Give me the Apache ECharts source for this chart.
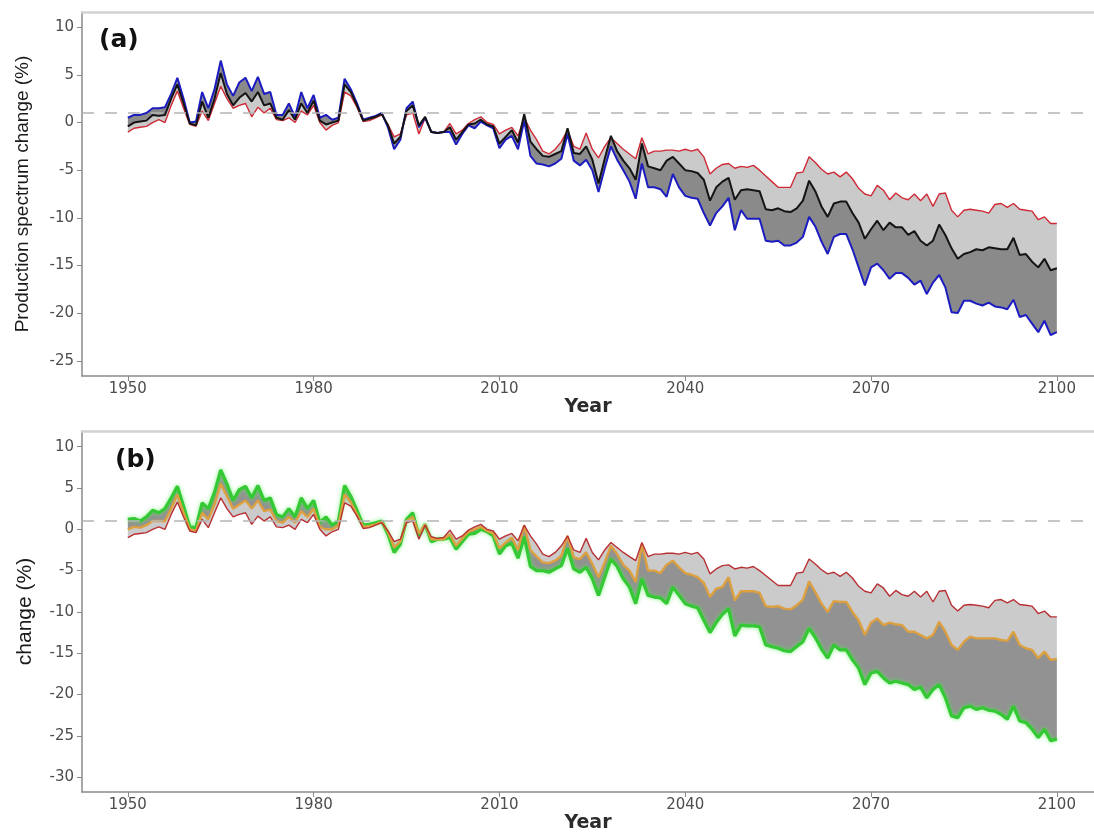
<!DOCTYPE html>
<html>
<head>
<meta charset="utf-8">
<title>Production spectrum change</title>
<script src="https://cdn.jsdelivr.net/npm/echarts@6/dist/echarts.min.js"></script>
<style>
  html, body { margin: 0; padding: 0; background: #fff; }
  #chart { width: 1094px; height: 834px; }
</style>
</head>
<body>
<div id="chart"></div>
<script>
// years on the x axis
const startYear = 1950;
const endYear = 2100;
const years = [];
for (let y = startYear; y <= endYear; y++) years.push(y);

const xTicks = [1950, 1980, 2010, 2040, 2070, 2100];
const yTicksA = [-25, -20, -15, -10, -5, 0, 5, 10];
const yTicksB = [-30, -25, -20, -15, -10, -5, 0, 5, 10];
const refLevel = 1; // dashed reference line

// red line (same in both panels)
const redValues = [
  -1.0, -0.6, -0.5, -0.4, 0.0, 0.3, 0.0, 1.8, 3.3, 1.5,
  -0.2, -0.4, 1.2, 0.2, 2.0, 3.8, 2.5, 1.5, 1.8, 2.0,
  0.6, 1.6, 1.0, 1.5, 0.3, 0.2, 0.5, 0.0, 1.2, 0.8,
  1.8, 0.0, -0.8, -0.3, 0.0, 3.2, 2.8, 1.6, 0.1, 0.2,
  0.5, 0.8, -0.2, -1.5, -1.2, 0.8, 1.0, -1.2, 0.5, -0.9,
  -1.1, -1.0, -0.1, -1.2, -0.8, -0.1, 0.3, 0.6, 0.0, -0.2,
  -1.2, -0.8, -0.5, -1.4, 0.5, -0.8, -1.8, -3.0, -3.3, -2.8,
  -2.0, -0.8, -2.5, -2.8, -1.1, -2.8, -3.7, -2.5, -1.6, -2.2,
  -2.8, -3.3, -3.8, -1.6, -3.3, -3.0, -3.0, -2.9, -2.9, -3.0,
  -2.8, -3.0, -2.8, -3.6, -5.4, -4.8, -4.4, -4.3, -4.8, -4.6,
  -4.7, -4.5, -5.0, -5.6, -6.2, -6.8, -6.8, -6.8, -5.3, -5.2,
  -3.6, -4.2, -4.9, -5.4, -5.2, -5.7, -5.2, -5.9, -6.9, -7.5,
  -7.7, -6.6, -7.1, -8.1, -7.4, -7.9, -8.1, -7.5, -8.2, -7.5,
  -8.8, -7.5, -7.4, -9.2, -9.9, -9.2, -9.1, -9.2, -9.3, -9.5,
  -8.6, -8.5, -8.9, -8.5, -9.1, -9.2, -9.3, -10.2, -9.9, -10.6,
  -10.6
];

// panel (a) black line
const blackValues = [
  -0.4, 0.0, 0.1, 0.2, 0.8, 0.7, 0.8, 2.5, 4.0, 2.0,
  -0.1, -0.3, 2.2, 0.5, 2.5, 5.2, 3.0, 1.8, 2.6, 3.1,
  2.2, 3.2, 1.8, 2.0, 0.5, 0.3, 1.3, 0.3, 2.0, 1.0,
  2.3, 0.2, -0.2, 0.0, 0.2, 4.0, 3.2, 1.8, 0.2, 0.4,
  0.6, 0.9, -0.3, -2.2, -1.5, 1.2, 1.8, -0.3, 0.6, -1.0,
  -1.1, -1.0, -0.5, -1.8, -1.0, -0.2, -0.1, 0.3, -0.2, -0.4,
  -2.2, -1.5, -0.8, -2.1, 0.9, -2.0, -2.8, -3.5, -3.6, -3.3,
  -3.0, -0.6, -3.2, -3.3, -2.5, -3.9, -6.4, -3.8, -1.4, -3.0,
  -4.0, -4.8, -6.0, -2.2, -4.6, -4.8, -5.0, -4.0, -3.6, -4.3,
  -5.0, -5.1, -5.3, -6.0, -8.2, -6.8, -6.2, -5.8, -8.1, -7.1,
  -7.0, -7.1, -7.2, -9.1, -9.2, -9.0, -9.3, -9.4, -9.0, -8.2,
  -6.1, -7.2, -8.8, -9.9, -8.5, -8.3, -8.3, -9.5, -10.5, -12.2,
  -11.2, -10.3, -11.3, -10.5, -11.0, -11.0, -11.8, -11.4, -12.4, -12.9,
  -12.4, -10.7, -11.8, -13.2, -14.3, -13.8, -13.6, -13.3, -13.4, -13.1,
  -13.2, -13.3, -13.3, -12.1, -13.9, -13.8, -14.6, -15.2, -14.3, -15.5,
  -15.3
];

// panel (a) blue line
const blueValues = [
  0.5, 0.8, 0.8, 1.0, 1.5, 1.5, 1.6, 3.0, 4.7, 2.5,
  0.0, 0.1, 3.2, 1.5, 3.5, 6.5, 4.0, 2.8, 4.2, 4.7,
  3.3, 4.8, 3.0, 3.2, 0.8, 0.8, 2.0, 0.6, 3.2, 1.5,
  2.9, 0.5, 0.8, 0.3, 0.5, 4.6, 3.5, 2.0, 0.3, 0.5,
  0.7, 1.0, -0.5, -2.8, -1.8, 1.5, 2.2, -0.5, 0.5, -1.0,
  -1.1, -1.0, -1.0, -2.3, -1.2, -0.3, -0.6, 0.1, -0.3, -0.6,
  -2.7, -1.8, -1.4, -2.8, 0.2, -3.5, -4.3, -4.4, -4.6, -4.3,
  -3.8, -1.2, -4.0, -4.5, -3.9, -5.0, -7.3, -4.8, -2.5, -3.9,
  -5.0, -6.2, -8.0, -4.3, -6.8, -6.8, -7.0, -7.8, -5.4, -6.8,
  -7.7, -7.9, -8.0, -9.5, -10.8, -9.5, -8.8, -7.9, -11.3, -9.2,
  -10.1, -10.1, -10.1, -12.4, -12.5, -12.4, -12.9, -12.9, -12.6, -12.0,
  -9.9, -10.9, -12.5, -13.8, -12.0, -11.7, -11.7, -13.3, -15.2, -17.1,
  -15.2, -14.8, -15.5, -16.4, -15.8, -15.8, -16.3, -17.0, -16.6, -18.0,
  -16.8, -16.0, -17.3, -19.9, -20.0, -18.7, -18.7, -19.0, -19.2, -18.9,
  -19.3, -19.4, -19.6, -18.6, -20.4, -20.2, -21.1, -22.0, -20.8, -22.3,
  -22.0
];

// panel (b) orange line
const orangeValues = [
  0.0, 0.3, 0.2, 0.5, 1.0, 1.0, 1.0, 2.5, 4.2, 2.0,
  0.0, -0.2, 2.0, 1.2, 3.0, 5.5, 4.0, 2.5, 3.0, 3.5,
  2.5, 3.5, 2.2, 2.4, 1.0, 0.8, 1.5, 0.8, 2.2, 1.5,
  2.5, 0.3, 0.0, 0.0, 0.5, 4.2, 3.3, 1.8, 0.3, 0.4,
  0.6, 0.9, -0.3, -2.2, -1.5, 1.0, 1.5, -0.5, 0.6, -1.2,
  -1.2, -1.2, -0.6, -2.0, -1.1, -0.3, 0.0, 0.3, -0.2, -0.5,
  -2.3, -1.6, -1.0, -2.5, 0.5, -2.5, -3.3, -4.0, -4.1, -3.8,
  -3.2, -0.8, -3.4, -3.6, -2.8, -4.2, -5.8, -4.0, -2.0, -3.0,
  -4.3, -5.0, -6.4, -1.8, -5.0, -5.0, -5.3, -4.3, -3.8, -4.6,
  -5.3, -5.5, -5.8, -6.5, -8.2, -7.2, -7.0, -5.8, -8.6, -7.5,
  -7.5, -7.5, -7.7, -9.3, -9.4, -9.3, -9.6, -9.7, -9.2, -8.5,
  -6.3, -7.6, -9.0, -10.0, -8.7, -8.8, -8.8, -10.0, -11.0, -12.8,
  -11.3, -10.8, -11.6, -11.3, -11.5, -11.6, -12.4, -12.4, -12.8, -13.2,
  -12.8, -11.2, -12.4, -14.0, -14.6, -13.6, -13.0, -13.2, -13.2, -13.2,
  -13.2, -13.4, -13.5, -12.4, -14.0, -14.4, -14.6, -15.6, -14.8, -15.8,
  -15.7
];

// panel (b) green line
const greenValues = [
  1.2, 1.3, 1.0, 1.5, 2.3, 2.0, 2.5, 3.8, 5.2, 2.8,
  0.3, 0.2, 3.2, 2.5, 4.5, 7.2, 5.5, 3.5, 4.8, 5.2,
  3.8, 5.3, 3.5, 3.8, 1.8, 1.5, 2.5, 1.5, 3.8, 2.5,
  3.5, 0.8, 1.5, 0.5, 1.0, 5.3, 4.0, 2.3, 0.5, 0.6,
  0.8, 1.0, -0.6, -2.8, -1.8, 1.2, 2.0, -0.8, 0.6, -1.5,
  -1.2, -1.2, -1.0, -2.4, -1.5, -0.6, -0.5, 0.0, -0.3, -0.8,
  -3.0, -2.0, -1.7, -3.5, -0.9, -4.5, -5.0, -5.0, -5.2, -4.8,
  -4.4, -2.3, -4.8, -5.2, -4.6, -6.0, -8.0, -5.8, -3.6, -4.5,
  -6.0, -7.0, -9.0, -6.0, -8.0, -8.2, -8.3, -9.0, -7.0, -8.0,
  -9.0, -9.3, -9.5, -11.0, -12.5, -11.3, -10.3, -9.6, -12.9, -11.6,
  -11.7, -11.7, -11.8, -14.0, -14.2, -14.4, -14.7, -14.8, -14.2, -13.6,
  -12.0, -13.1, -14.5, -15.6, -14.0, -14.6, -14.6, -15.8, -16.8, -18.8,
  -17.4, -17.2, -18.0, -18.6, -18.4, -18.6, -18.8, -19.4, -19.1, -20.4,
  -19.4, -18.8, -20.4, -22.6, -22.8, -21.6, -21.4, -21.8, -21.6, -21.9,
  -22.0, -22.4, -23.0, -21.4, -23.2, -23.4, -24.2, -25.2, -24.2, -25.6,
  -25.4
];

const chart = echarts.init(document.getElementById('chart'));

const pairs = vals => years.map((y, i) => [y, vals[i]]);

const axisGray = '#8a8a8a';
const labelGray = '#4d4d4d';

// shaded band between two lines, drawn as one polygon through the axis scales
function band(gi, edgeA, edgeB, color) {
  return {
    type: 'custom', xAxisIndex: gi * 2, yAxisIndex: gi, silent: true,
    data: years.map((y, i) => [y, edgeA[i], edgeB[i]]),
    encode: { x: 0, y: [1, 2] },
    renderItem: function (params, api) {
      if (params.dataIndex !== 0) return null;
      const pts = [];
      years.forEach((y, i) => pts.push(api.coord([y, edgeA[i]])));
      for (let i = years.length - 1; i >= 0; i--) pts.push(api.coord([years[i], edgeB[i]]));
      return { type: 'polygon', shape: { points: pts }, style: { fill: color } };
    }
  };
}

function line(gi, name, vals, color, width, extra) {
  return Object.assign({
    name: name, type: 'line', xAxisIndex: gi * 2, yAxisIndex: gi,
    data: pairs(vals), symbol: 'none', silent: true,
    lineStyle: { color: color, width: width }
  }, extra || {});
}

const refLine = {
  silent: true, symbol: 'none', label: { show: false },
  lineStyle: { color: '#b4b4b4', type: [12, 11], width: 1.5 },
  data: [{ yAxis: refLevel }]
};

function xAxes(gi) {
  return [{
    gridIndex: gi, type: 'value', min: 1942.6, max: 2106,
    name: 'Year', nameLocation: 'middle', nameGap: 22,
    nameTextStyle: { fontFamily: 'DejaVu Sans', fontWeight: 'bold', fontSize: 19, color: '#2b2b2b' },
    axisLine: { onZero: false, lineStyle: { color: axisGray, width: 1.5 } },
    axisTick: { customValues: xTicks, length: 5, lineStyle: { color: axisGray } },
    axisLabel: { customValues: xTicks, margin: 6, color: labelGray, fontFamily: 'DejaVu Sans', fontSize: 15,
      formatter: v => String(v) },
    splitLine: { show: false }
  }, {
    gridIndex: gi, type: 'value', position: 'top', min: 1942.6, max: 2106,
    axisLine: { onZero: false, lineStyle: { color: '#d2d2d2', width: 2.5 } },
    axisTick: { show: false }, axisLabel: { show: false }, splitLine: { show: false }
  }];
}

function yAxis(gi, min, max, ticks, name, fontSize, gap) {
  return {
    gridIndex: gi, type: 'value', min: min, max: max,
    name: name, nameLocation: 'middle', nameGap: gap, nameRotate: 90,
    nameTextStyle: { fontFamily: 'Liberation Sans', fontSize: fontSize, color: '#1a1a1a' },
    axisLine: { show: true, onZero: false, lineStyle: { color: axisGray, width: 1.5 } },
    axisTick: { show: true, customValues: ticks, length: 5, lineStyle: { color: axisGray } },
    axisLabel: { customValues: ticks, margin: 8, color: labelGray, fontFamily: 'DejaVu Sans', fontSize: 15 },
    splitLine: { show: false }
  };
}

const option = {
  animation: false,
  backgroundColor: '#ffffff',
  grid: [
    { left: 82, right: 0, top: 12, height: 364 },
    { left: 82, right: 0, top: 431, height: 364 }
  ],
  xAxis: xAxes(0).concat(xAxes(1)),
  yAxis: [
    yAxis(0, -26.6, 11.6, yTicksA, 'Production spectrum change (%)', 19, 50),
    yAxis(1, -31.8, 11.9, yTicksB, 'change (%)', 21, 46)
  ],
  graphic: [
    { type: 'text', left: 99, top: 28, style: { text: '(a)', font: 'bold 25px "DejaVu Sans"', fill: '#111' } },
    { type: 'text', left: 115, top: 448, style: { text: '(b)', font: 'bold 25px "DejaVu Sans"', fill: '#111' } }
  ],
  series: [
    band(0, blackValues, redValues, '#cacaca'),
    band(0, blackValues, blueValues, '#8a8a8a'),
    line(0, 'red-a', redValues, '#cf2a36', 1.4, { markLine: refLine }),
    line(0, 'blue', blueValues, '#1c1cc0', 2),
    line(0, 'black', blackValues, '#141414', 2),

    band(1, orangeValues, redValues, '#cbcbcb'),
    band(1, orangeValues, greenValues, '#929292'),
    line(1, 'green', greenValues, '#34c934', 3.2, {
      lineStyle: { color: '#34c934', width: 3.2, shadowBlur: 4, shadowColor: 'rgba(80,240,80,0.7)' }
    }),
    line(1, 'orange', orangeValues, '#dca040', 2.4),
    line(1, 'red-b', redValues, '#b83034', 1.4, { markLine: refLine })
  ]
};

chart.setOption(option);
</script>
</body>
</html>
